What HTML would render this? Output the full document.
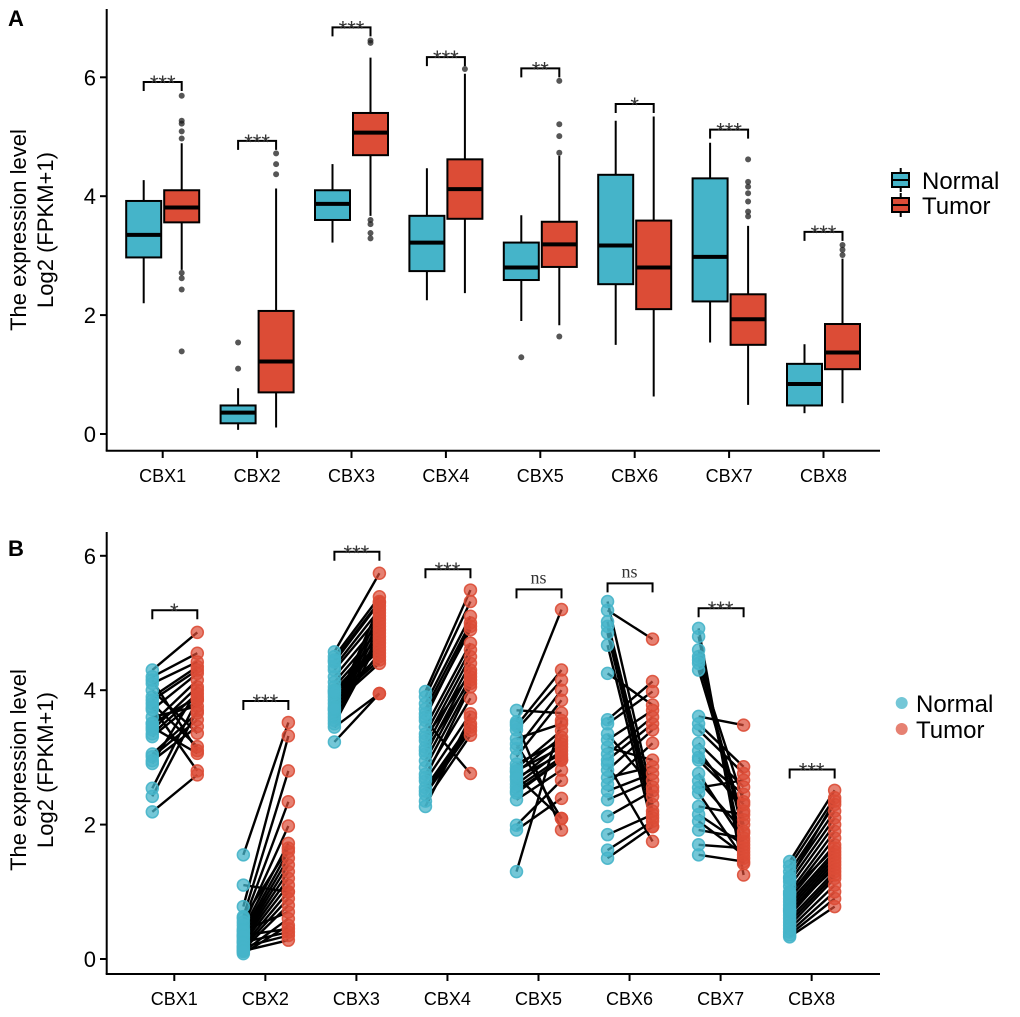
<!DOCTYPE html>
<html><head><meta charset="utf-8">
<style>
html,body{margin:0;padding:0;background:#fff;}
svg{display:block;font-family:"Liberation Sans",sans-serif;}
</style></head>
<body>
<svg id="fig" width="1020" height="1017" viewBox="0 0 1020 1017" xmlns="http://www.w3.org/2000/svg">
<text x="8" y="26" font-size="22" font-weight="bold">A</text>
<text x="8" y="556" font-size="22" font-weight="bold">B</text>
<g id="pa"></g>
<g id="pb"></g>
</svg>
<script>
const categories = ["CBX1","CBX2","CBX3","CBX4","CBX5","CBX6","CBX7","CBX8"];
const yTicks = [0,2,4,6];
// Panel A box stats [low, q1, median, q3, high]
const normalBox = [[2.2,2.97,3.35,3.92,4.27],[0.07,0.18,0.36,0.48,0.77],[3.22,3.6,3.87,4.1,4.54],[2.25,2.74,3.22,3.67,4.47],[1.9,2.59,2.8,3.22,3.68],[1.5,2.52,3.17,4.36,5.27],[1.54,2.23,2.98,4.3,4.9],[0.35,0.48,0.84,1.18,1.51]];
const tumorBox = [[2.76,3.56,3.81,4.1,4.89],[0.11,0.7,1.22,2.07,4.13],[3.67,4.69,5.07,5.4,6.33],[2.37,3.62,4.12,4.62,6.06],[1.83,2.81,3.19,3.57,4.68],[0.63,2.1,2.8,3.59,5.34],[0.49,1.5,1.93,2.35,3.5],[0.52,1.09,1.37,1.85,2.95]];
const normalOutliers = [[],[1.54,1.1],[],[],[1.29],[],[],[]];
const tumorOutliers = [[5.69,5.27,5.22,5.09,4.97,2.71,2.62,2.43,1.39],[4.72,4.54,4.37],[6.62,6.58,3.6,3.53,3.38,3.29],[6.14],[5.94,5.21,5.01,4.73,1.64],[],[4.62,4.24,4.16,4.05,3.91,3.74,3.66],[3.18,3.1,3.01]];
const sigA = ["***","***","***","***","**","*","***","***"];
const sigAHeight = [5.92,4.93,6.84,6.34,6.15,5.55,5.12,3.4];
// Panel B paired values (index i in normal pairs with index i in tumor)
const pairN = [
[4.3,4.2,4.1,4.0,3.9,3.8,3.71,3.6,3.51,3.45,3.41,3.35,3.31,3.05,3.01,2.95,2.91,2.54,2.42,2.19,4.15,3.85,3.75,3.5],
[1.55,1.1,0.78,0.63,0.55,0.5,0.45,0.4,0.36,0.33,0.3,0.27,0.24,0.2,0.17,0.14,0.11,0.08,0.6,0.42,0.35,0.25,0.18,0.12],
[4.57,4.5,4.42,4.35,4.3,4.2,4.12,4.05,4.0,3.95,3.9,3.85,3.8,3.75,3.7,3.65,3.6,3.55,3.5,3.45,3.23,4.45,3.98,3.72],
[3.98,3.9,3.8,3.72,3.65,3.55,3.45,3.35,3.25,3.15,3.05,2.95,2.85,2.75,2.65,2.55,2.45,2.35,2.27,3.6,3.3,2.7,2.5,3.1],
[3.7,3.53,3.47,3.41,3.28,3.13,3.01,2.84,2.78,2.72,2.66,2.6,2.55,2.47,2.37,1.99,1.92,1.3,3.5,2.9,2.8,2.7,3.2,2.5],
[5.32,5.19,5.02,4.95,4.85,4.67,4.25,3.56,3.5,3.26,3.15,3.05,2.96,2.81,2.7,2.6,2.5,2.37,2.12,1.85,1.62,1.5,3.35,2.9],
[4.92,4.8,4.6,4.5,4.4,4.3,3.61,3.5,3.41,3.21,3.1,2.96,2.76,2.65,2.55,2.47,2.27,2.15,2.05,1.92,1.7,1.55,4.45,3.0],
[1.45,1.38,1.3,1.22,1.15,1.08,1.0,0.95,0.9,0.85,0.8,0.75,0.7,0.65,0.6,0.55,0.5,0.45,0.4,0.36,0.33,1.2,0.98,0.72]];
const pairT = [
[4.86,4.55,4.42,3.36,4.35,3.16,4.25,3.76,4.15,3.06,4.05,3.95,3.85,3.66,3.56,3.46,4.0,3.86,3.7,2.74,3.1,4.3,2.8,3.9],
[3.52,1.0,3.32,2.8,2.34,1.98,1.72,1.6,1.5,1.4,1.3,1.2,1.1,1.0,0.9,0.8,0.6,0.5,1.65,0.7,0.45,0.4,0.35,0.28],
[5.74,5.39,5.3,5.2,5.1,5.0,4.9,4.8,4.7,4.6,4.5,4.45,4.4,5.25,5.15,5.05,4.95,4.85,4.75,3.95,3.95,5.32,4.65,4.55],
[5.49,5.32,5.1,5.0,4.9,2.76,4.7,4.6,4.5,4.4,4.3,4.2,4.1,3.88,3.65,3.5,3.4,3.33,3.6,4.95,4.25,4.05,3.45,4.15],
[3.66,5.2,4.3,4.15,3.5,4.0,3.85,3.4,3.3,2.09,3.2,3.1,3.0,2.96,2.81,2.66,2.39,3.55,1.92,3.25,3.15,3.05,2.09,2.96],
[2.42,4.76,2.3,2.2,2.1,1.97,3.78,4.13,3.98,3.7,2.96,3.6,3.5,3.41,2.86,3.21,2.76,2.66,2.5,2.15,2.05,1.97,2.56,1.75],
[1.25,1.42,1.6,1.87,2.34,2.07,3.48,2.86,2.76,2.56,2.2,2.3,1.75,1.9,2.66,1.5,2.15,1.7,1.55,1.8,1.65,1.45,2.0,2.45],
[2.51,2.4,2.3,2.2,2.1,2.0,1.9,1.8,1.7,1.6,1.55,1.5,1.45,1.4,1.3,1.25,1.2,1.1,1.0,0.9,0.78,2.35,1.65,1.35]];
const sigB = ["*","***","***","***","ns","ns","***","***"];
const sigBHeight = [5.19,3.84,6.06,5.8,5.5,5.59,5.22,2.82];

const NS="http://www.w3.org/2000/svg";
function mk(parent,tag,attrs,text){const e=document.createElementNS(NS,tag);for(const k in attrs)e.setAttribute(k,attrs[k]);if(text!==undefined)e.textContent=text;parent.appendChild(e);return e;}
const BLUE="#45b4c9", RED="#dc4c36";

// ---------- Panel A ----------
const pa=document.getElementById('pa');
const yA=v=>434-59.45*v;
const xA=i=>162.7+94.4*i;
let e;
e=mk(pa,'line',{x1:106.7,y1:9,x2:106.7,y2:450.7,stroke:'#000','stroke-width':2});


e=mk(pa,'line',{x1:105.7,y1:450.7,x2:880,y2:450.7,stroke:'#000','stroke-width':2});


yTicks.forEach(t=>{
  mk(pa,'line',{x1:100,y1:yA(t),x2:106.7,y2:yA(t),stroke:'#000','stroke-width':2});
  e=mk(pa,'text',{x:96,y:yA(t)+8,'font-size':22,'text-anchor':'end'},String(t));
  
  
});
categories.forEach((c,i)=>{
  mk(pa,'line',{x1:xA(i),y1:450.7,x2:xA(i),y2:458,stroke:'#000','stroke-width':2});
  e=mk(pa,'text',{x:xA(i),y:482,'font-size':18,'text-anchor':'middle'},c);
  
  
  [[normalBox[i],-19,BLUE,normalOutliers[i]],[tumorBox[i],19,RED,tumorOutliers[i]]].forEach(([b,off,col,outs])=>{
    const cx=xA(i)+off;
    const g=mk(pa,'g',{});
    
    
    mk(g,'line',{x1:cx,y1:yA(b[0]),x2:cx,y2:yA(b[4]),stroke:'#000','stroke-width':2});
    mk(g,'rect',{x:cx-17.5,y:yA(b[3]),width:35,height:yA(b[1])-yA(b[3]),fill:col,stroke:'#000','stroke-width':2});
    mk(g,'line',{x1:cx-17.5,y1:yA(b[2]),x2:cx+17.5,y2:yA(b[2]),stroke:'#000','stroke-width':4});
    outs.forEach(o=>{
      const d=mk(g,'circle',{cx:cx,cy:yA(o),r:3,fill:'rgba(30,30,30,0.75)'});
      
      
    });
  });
  const h=yA(sigAHeight[i]);
  const br=mk(pa,'path',{d:`M${xA(i)-19},${h+9}V${h}H${xA(i)+19}V${h+9}`,fill:'none',stroke:'#000','stroke-width':2});
  
  
  e=mk(pa,'text',{x:xA(i),y:h+9,'font-size':22,'text-anchor':'middle',fill:'#333'},sigA[i]);
  
  
});
e=mk(pa,'text',{transform:'translate(26,230) rotate(-90)','font-size':22,'text-anchor':'middle'},'The expression level');


e=mk(pa,'text',{transform:'translate(53,230) rotate(-90)','font-size':22,'text-anchor':'middle'},'Log2 (FPKM+1)');


[['Normal',180,BLUE],['Tumor',205,RED]].forEach(([n,y,col])=>{
  const g=mk(pa,'g',{});
  
  
  mk(g,'line',{x1:900.7,y1:y-12,x2:900.7,y2:y+12,stroke:'#000','stroke-width':2});
  mk(g,'rect',{x:892,y:y-7,width:17,height:14,fill:col,stroke:'#000','stroke-width':2});
  mk(g,'line',{x1:892,y1:y,x2:909,y2:y,stroke:'#000','stroke-width':2});
  mk(g,'text',{x:922,y:y+9,'font-size':24},n);
});

// ---------- Panel B ----------
const pb=document.getElementById('pb');
const yB=v=>959-67.2*v;
const xB=i=>174.3+91.05*i;
e=mk(pb,'line',{x1:106.7,y1:532,x2:106.7,y2:974,stroke:'#000','stroke-width':2});


e=mk(pb,'line',{x1:105.7,y1:974,x2:880,y2:974,stroke:'#000','stroke-width':2});


yTicks.forEach(t=>{
  mk(pb,'line',{x1:100,y1:yB(t),x2:106.7,y2:yB(t),stroke:'#000','stroke-width':2});
  e=mk(pb,'text',{x:96,y:yB(t)+8,'font-size':22,'text-anchor':'end'},String(t));
  
  
});
categories.forEach((c,i)=>{
  mk(pb,'line',{x1:xB(i),y1:974,x2:xB(i),y2:981,stroke:'#000','stroke-width':2});
  e=mk(pb,'text',{x:xB(i),y:1005,'font-size':18,'text-anchor':'middle'},c);
  
  
  const nx=xB(i)-22, tx=xB(i)+23;
  const g=mk(pb,'g',{});
  
  
  pairN[i].forEach((v,k)=>{
    const l=mk(g,'line',{x1:nx,y1:yB(v),x2:tx,y2:yB(pairT[i][k]),stroke:'#000','stroke-width':2.4});
    
    
  });
  pairN[i].forEach(v=>{
    const d=mk(g,'circle',{cx:nx,cy:yB(v),r:6,fill:'rgba(69,180,201,0.75)',stroke:'rgba(69,180,201,0.9)','stroke-width':1.5});
    
    
  });
  pairT[i].forEach(v=>{
    const d=mk(g,'circle',{cx:tx,cy:yB(v),r:6,fill:'rgba(220,76,54,0.7)',stroke:'rgba(220,76,54,0.9)','stroke-width':1.5});
    
    
  });
  const h=yB(sigBHeight[i]);
  const br=mk(pb,'path',{d:`M${nx},${h+9}V${h}H${tx}V${h+9}`,fill:'none',stroke:'#000','stroke-width':2});
  
  
  const isNs=sigB[i]==='ns';
  e=mk(pb,'text',{x:xB(i),y:isNs?h-6:h+9,'font-size':isNs?18:22,'text-anchor':'middle',fill:'#333','font-family':isNs?'"Liberation Serif",serif':'"Liberation Sans",sans-serif'},sigB[i]);
  
  
});
e=mk(pb,'text',{transform:'translate(26,770) rotate(-90)','font-size':22,'text-anchor':'middle'},'The expression level');


e=mk(pb,'text',{transform:'translate(53,770) rotate(-90)','font-size':22,'text-anchor':'middle'},'Log2 (FPKM+1)');


[['Normal',703,'rgba(69,180,201,0.75)'],['Tumor',729,'rgba(220,76,54,0.7)']].forEach(([n,y,col])=>{
  const g=mk(pb,'g',{});
  
  
  mk(g,'circle',{cx:901.7,cy:y,r:6,fill:col});
  mk(g,'text',{x:916,y:y+9,'font-size':24},n);
});
</script>
</body></html>
